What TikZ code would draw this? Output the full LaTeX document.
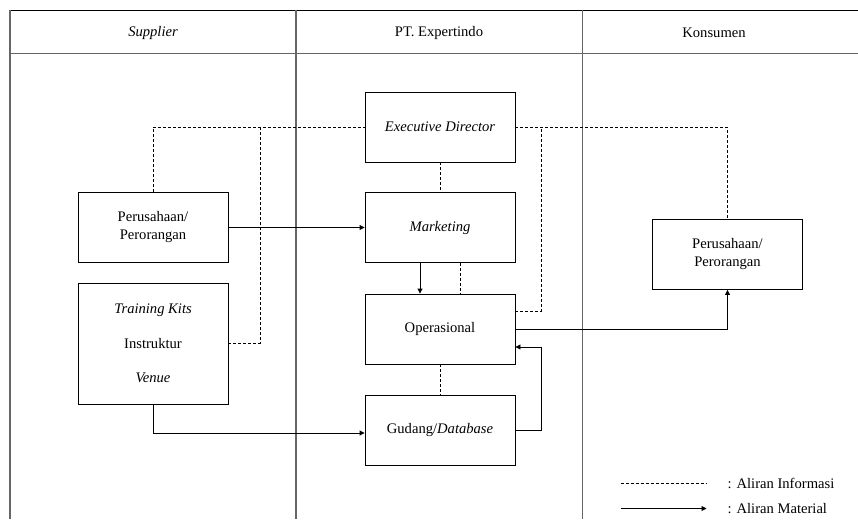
\documentclass[tikz,border=0pt]{standalone}
\usepackage{fontspec}
\setmainfont{Liberation Serif}
\usetikzlibrary{arrows.meta,calc}

\begin{document}
\begin{tikzpicture}[
    x=1pt,y=-1pt,
    >={Triangle[length=5pt,width=5pt]},
    lane/.style={draw=black!60,line width=1.6pt},
    box/.style={draw,line width=0.9pt,minimum width=150pt,minimum height=70pt,
                inner sep=0pt,align=center,font=\fontsize{14.6}{18}\selectfont},
    head/.style={font=\fontsize{14.6}{18}\selectfont},
    lbl/.style={font=\fontsize{14.6}{18}\selectfont,inner sep=0pt,anchor=west},
    info/.style={line width=0.8pt,dash pattern=on 3pt off 2pt},
    material/.style={->,line width=0.9pt},
]
\useasboundingbox (0,0) rectangle (858,519);

% ---- swimlane frame ----
\draw[line width=1.1pt] (10,10.5) -- (858,10.5);
\draw[lane] (10,10) -- (10,519);
\draw[lane] (10,53.5) -- (858,53.5);
\draw[lane] (296,10) -- (296,519);
\draw[lane] (582.5,10) -- (582.5,519);

\node[head] (hSup) at (153,33) {\itshape Supplier};
\node[head] (hPT)  at (439,33) {PT. Expertindo};
\node[head] (hKon) at (714,33) {Konsumen};

% ---- supplier lane ----
\node[box] (supA) at (153,227.5) {Perusahaan/\\Perorangan};
\node[box,minimum height=121pt] (supB) at (153,343.5)
  {\itshape Training Kits\\[16.5pt] Instruktur\\[16.5pt] \itshape Venue};

% ---- PT. Expertindo lane ----
\node[box] (exec) at (440,127)   {\itshape Executive Director};
\node[box] (mkt)  at (440,227.5) {\itshape Marketing};
\node[box] (ops)  at (440,329)   {Operasional};
\node[box] (gud)  at (440,430.5) {Gudang/\textit{Database}};

% ---- konsumen lane ----
\node[box] (kon) at (727.5,254.5) {Perusahaan/\\Perorangan};

% ---- information flow (dashed) ----
\coordinate (jSup) at (260,127);
\coordinate (jOps) at (541,127);
\draw[info] (supA.north) |- (exec.west);
\draw[info] (supB.east) -| (jSup);
\draw[info] (exec.east) -| (kon.north);
\draw[info] ($(ops.east)+(0,-18)$) -| (jOps);
\draw[info] (exec.south) -- (mkt.north);
\draw[info] ($(mkt.south)+(20,0)$) -- ($(ops.north)+(20,0)$);
\draw[info] (ops.south) -- (gud.north);

% ---- material flow (arrows) ----
\draw[material] (supA.east) -- (mkt.west);
\draw[material] ($(mkt.south)+(-20,0)$) -- ($(ops.north)+(-20,0)$);
\draw[material] (supB.south) |- ($(gud.west)+(0,2.5)$);
\draw[material] (gud.east) -- ++(26,0) |- ($(ops.east)+(0,18)$);
\draw[material] (ops.east) -| (kon.south);

% ---- legend ----
\node[lbl] (lgInfo) at (727.5,483.5) {: Aliran Informasi};
\node[lbl] (lgMat)  at (727.5,508.5) {: Aliran Material};
\draw[info] ($(lgInfo.west)+(-107,0)$) -- ($(lgInfo.west)+(-21,0)$);
\draw[material] ($(lgMat.west)+(-107,0)$) -- ($(lgMat.west)+(-21,0)$);

\end{tikzpicture}
\end{document}
